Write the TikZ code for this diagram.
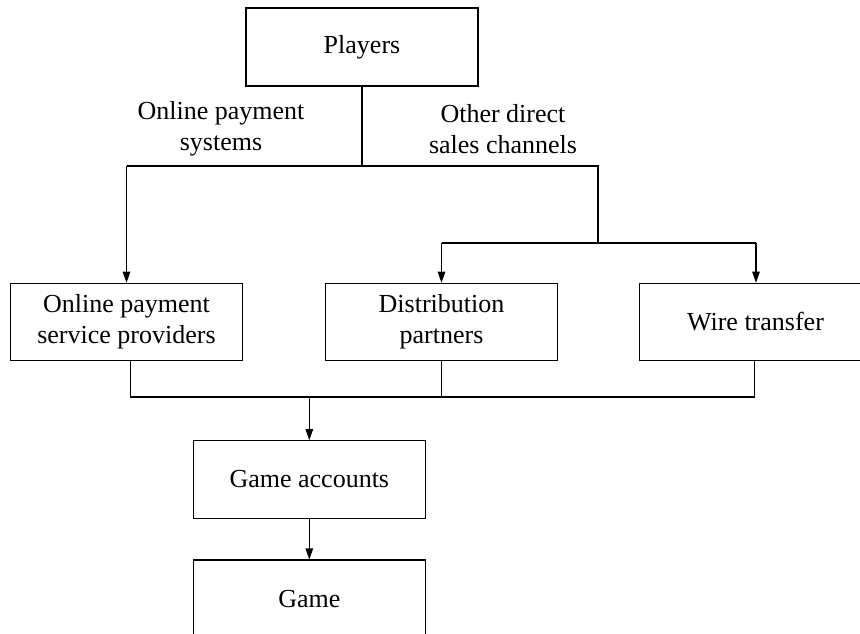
\documentclass[tikz,border=0pt]{standalone}
\usepackage{fontspec}
\setmainfont{Liberation Serif}
\usetikzlibrary{arrows.meta}
\begin{document}
\begin{tikzpicture}[x=1pt,y=-1pt,
  box/.style={draw, line width=1.1pt, minimum width=232pt, inner sep=0pt, align=center,
              font=\fontsize{26}{31}\selectfont},
  lbl/.style={align=center, inner sep=0pt, font=\fontsize{26}{31}\selectfont},
  conn/.style={line width=1.1pt},
  arr/.style={line width=1.1pt, -{Triangle[length=11pt,width=7.5pt]}}]
\clip (0,0) rectangle (860,633);
\fill[white] (0,0) rectangle (860,633);
% nodes
\node[box, minimum height=78pt] (players) at (362,47) {Players};
\node[box, minimum height=77.5pt] (opsp) at (126.5,322) {Online payment\\service providers};
\node[box, minimum height=77.5pt] (dist) at (441.5,322) {Distribution\\partners};
\node[box, minimum height=77.5pt] (wire) at (755.5,322) {Wire transfer};
\node[box, minimum height=77.5pt] (acc) at (309.3,479.5) {Game accounts};
\node[box, minimum height=78pt] (game) at (309.3,599) {Game};
% labels
\node[lbl] (l1) at (221,129) {Online payment\\systems};
\node[lbl] (l2) at (503,129) {Other direct\\sales channels};
% junctions
\coordinate (j1) at (362,166);
\coordinate (jl) at (126.5,166);
\coordinate (jr) at (598,166);
\coordinate (jr2) at (598,243);
\coordinate (jd) at (441.5,243);
\coordinate (jw) at (756,243);
\coordinate (b1) at (130.7,397);
\coordinate (b2) at (441.5,397);
\coordinate (b3) at (754.3,397);
\coordinate (bm) at (309.3,397);
% connectors
\draw[conn] (players.south) -- (j1);
\draw[conn] (jl) -- (jr) -- (jr2);
\draw[arr] (jl) -- (opsp.north);
\draw[conn] (jd) -- (jw);
\draw[arr] (jd) -- (dist.north);
\draw[arr] (jw) -- (wire.north -| jw);
\draw[conn] ([xshift=4.2pt]opsp.south) -- (b1) -- (b3) -- (wire.south -| b3);
\draw[conn] (dist.south) -- (b2);
\draw[arr] (bm) -- (acc.north);
\draw[arr] (acc.south) -- (game.north);
\end{tikzpicture}
\end{document}
